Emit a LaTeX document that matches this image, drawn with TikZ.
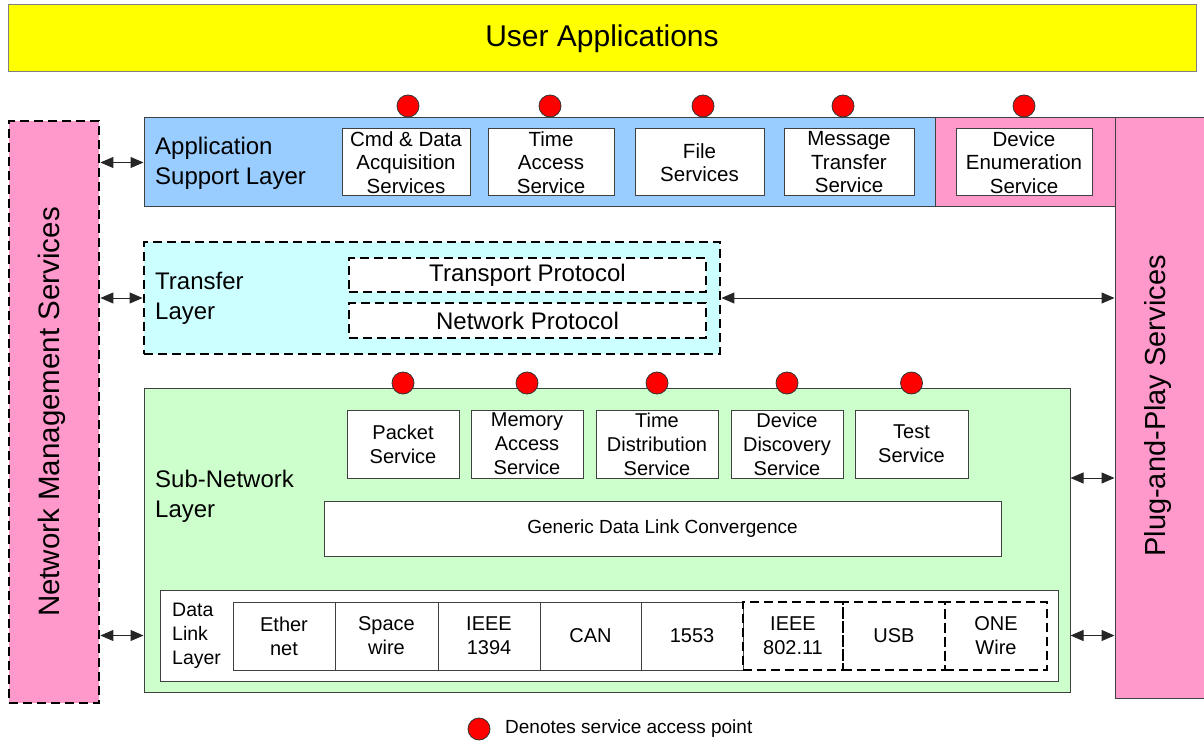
\documentclass[tikz,border=0pt]{standalone}
\usepackage{fontspec}
\setmainfont{Liberation Sans}
\usetikzlibrary{arrows.meta}
\definecolor{uyellow}{HTML}{FFFF00}
\definecolor{ublue}{HTML}{99CCFF}
\definecolor{upink}{HTML}{FF99CC}
\definecolor{ucyan}{HTML}{CCFFFF}
\definecolor{ugreen}{HTML}{CCFFCC}
\definecolor{uedge}{HTML}{404040}
\newcommand\fs[2]{\fontsize{#1pt}{#2pt}\selectfont}
% name, x1, y1, x2, y2, style, text
\newcommand\mybox[7]{\node[#6, minimum width={#4-#2}, minimum height={#5-#3}] (#1) at ({(#2+#4)/2},{(#3+#5)/2}) {#7};}
\begin{document}
\begin{tikzpicture}[x=1pt,y=-1pt,
  layer/.style={draw=uedge, line width=1pt, inner sep=0pt},
  dbox/.style={draw=black, line width=2.8pt, dash pattern=on 9pt off 5pt, inner sep=0pt, align=center},
  wbox/.style={draw=uedge, fill=white, line width=1pt, inner sep=0pt, align=center},
  sap/.style={circle, fill=red, draw=black!80, line width=0.8pt, minimum size=22pt, inner sep=0pt},
  arr/.style={{Triangle[length=13pt,width=11pt]}-{Triangle[length=13pt,width=11pt]}, line width=1pt, draw=black!85},
  lbl/.style={anchor=west, align=left, inner sep=0pt, font=\fs{24}{30}},
  abox/.style={wbox, font=\fs{20.5}{23.5}},
  sbox/.style={wbox, font=\fs{20}{24}},
  cell/.style={wbox, font=\fs{20}{24}},
  dcell/.style={dbox, font=\fs{20}{24}}
]
\useasboundingbox (0,0) rectangle (1204,743);
\clip (0,0) rectangle (1204,743);

% User applications
\mybox{ua}{8}{5}{1196}{72}{layer, draw=gray, fill=uyellow, font=\fs{30}{34}}{User Applications}

% Network management services
\mybox{nms}{9}{121}{99}{703}{dbox, fill=upink}{}
\node[rotate=90, font=\fs{29.5}{32}, inner sep=0pt] (nmst) at (52,412) {Network Management Services};

% Plug-and-play services
\mybox{pnp}{1115}{118}{1210}{698}{layer, fill=upink}{}
\node[rotate=90, font=\fs{29}{32}, inner sep=0pt] (pnpt) at (1158,406) {Plug-and-Play Services};

% Application support layer
\mybox{asl}{144}{118}{935}{207}{layer, fill=ublue}{}
\mybox{aslp}{935}{118}{1115}{207}{layer, fill=upink}{}
\node[lbl] (aslt) at (155,163) {Application\\Support Layer};
\mybox{cmd}{342}{129}{470}{196}{abox}{Cmd \& Data\\Acquisition\\Services}
\mybox{tas}{488}{129}{614}{196}{abox}{Time\\Access\\Service}
\mybox{fs}{635}{129}{764}{196}{abox}{File\\Services}
\mybox{mts}{784}{129}{914}{196}{abox}{Message\\Transfer\\Service}
\mybox{des}{956}{129}{1092}{196}{abox}{Device\\Enumeration\\Service}
\node[sap] (s1) at (408,106) {};
\node[sap] (s2) at (550,106) {};
\node[sap] (s3) at (703,106) {};
\node[sap] (s4) at (843,106) {};
\node[sap] (s5) at (1024,106) {};

% Transfer layer
\mybox{tl}{144}{242}{720}{354}{dbox, fill=ucyan}{}
\node[lbl] (tlt) at (155,298) {Transfer\\Layer};
\mybox{tp}{349}{258}{706}{292}{dbox, fill=white, font=\fs{24}{28}}{Transport Protocol}
\mybox{np}{349}{303}{706}{338}{dbox, fill=white, font=\fs{24}{28}}{Network Protocol}

% Sub-network layer
\mybox{sn}{144}{388}{1070}{692}{layer, fill=ugreen}{}
\node[lbl] (snt) at (155,496) {Sub-Network\\Layer};
\mybox{ps}{347}{410}{459}{478}{sbox}{Packet\\Service}
\mybox{mas}{471}{410}{583}{478}{sbox}{Memory\\Access\\Service}
\mybox{tds}{596}{410}{718}{478}{sbox}{Time\\Distribution\\Service}
\mybox{dds}{731}{410}{843}{478}{sbox}{Device\\Discovery\\Service}
\mybox{ts}{855}{410}{968}{478}{sbox}{Test\\Service}
\foreach \b/\n in {ps/t1,mas/t2,tds/t3,dds/t4,ts/t5}{
  \node[sap] (\n) at (\b.north |- 0,383) {};
}
\mybox{gdl}{324}{501}{1001}{556}{wbox, font=\fs{19}{23}}{Generic Data Link Convergence}

% Data link layer
\mybox{dll}{160}{590}{1058}{681}{wbox}{}
\node[anchor=west, align=left, inner sep=0pt, font=\fs{19.5}{24}] (dllt) at (172,636) {Data\\Link\\Layer};
\mybox{c1}{233}{602}{335}{670}{cell}{Ether\\net}
\mybox{c2}{335}{602}{438}{670}{cell}{Space\\wire}
\mybox{c3}{438}{602}{540}{670}{cell}{IEEE\\1394}
\mybox{c4}{540}{602}{641}{670}{cell}{CAN}
\mybox{c5}{641}{602}{743}{670}{cell}{1553}
\mybox{c6}{743}{602}{843}{670}{dcell}{IEEE\\802.11}
\mybox{c7}{843}{602}{945}{670}{dcell}{USB}
\mybox{c8}{945}{602}{1047}{670}{dcell}{ONE\\Wire}

% connectors
\draw[arr] (nms.east |- asl.west) -- (asl.west);
\draw[arr] (nms.east |- tl.west) -- (tl.west);
\draw[arr] (nms.east |- dll.west) -- (sn.west |- dll.west);
\draw[arr] (tl.east) -- (pnp.west |- tl.east);
\draw[arr] (sn.east |- 0,478) -- (pnp.west |- 0,478);
\draw[arr] (sn.east |- dll.east) -- (pnp.west |- dll.east);

% legend
\node[sap] (leg) at (479,729) {};
\node[anchor=west, inner sep=0pt, font=\fs{19}{23}] (legt) at (505,729) {Denotes service access point};
\end{tikzpicture}
\end{document}
